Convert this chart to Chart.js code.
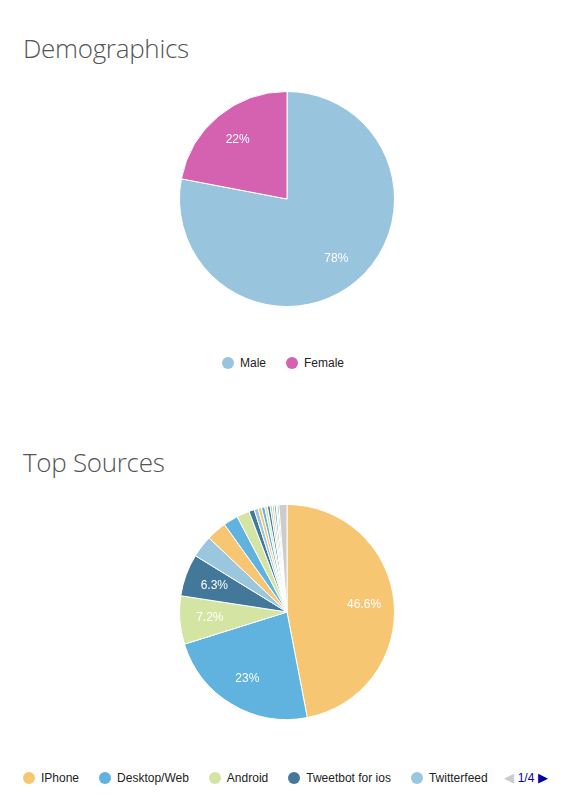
<!DOCTYPE html>
<html><head><meta charset="utf-8">
<script src="https://cdn.jsdelivr.net/npm/chart.js@4/dist/chart.umd.min.js"></script>
<style>
body{margin:0;width:574px;height:811px;background:#fff;position:relative;font-family:Arial,"Liberation Sans",sans-serif;}
h2{position:absolute;left:23px;margin:0;font-family:"Open Sans",sans-serif;font-weight:300;font-size:26px;color:#555;letter-spacing:-0.3px}
.cv{position:absolute;left:0;}
.legend{position:absolute;left:0;width:574px;font-size:12px;color:#222;display:flex;align-items:center}
.legend span.i{display:inline-flex;align-items:center;margin-right:20px}
.legend i{display:inline-block;width:12px;height:12px;border-radius:50%;margin-right:6px}
</style></head><body>
<h2 style="top:30px">Demographics</h2>
<div class="cv" style="top:87px;width:574px;height:224px"><canvas id="myChart1"></canvas></div>
<div class="legend" id="leg1" style="top:356px;justify-content:center;padding-left:6px"></div>
<h2 style="top:444px">Top Sources</h2>
<div class="cv" style="top:500px;width:574px;height:224px"><canvas id="myChart2"></canvas></div>
<div class="legend" id="leg2" style="top:770px;padding-left:23px"></div>
<script>
const demoLabels = ['Male', 'Female'];
const demoValues = [78, 22];
const demoColors = ['#98c5dd', '#d462b0'];

const srcLabels = ['IPhone', 'Desktop/Web', 'Android', 'Tweetbot for ios', 'Twitterfeed',
  'Source 6', 'Source 7', 'Source 8', 'Source 9', 'Source 10', 'Source 11', 'Source 12', 'Source 13',
  'Source 14', 'Source 15', 'Source 16', 'Source 17', 'Source 18', 'Source 19', 'Source 20'];
const srcValues = [46.6, 23, 7.2, 6.3, 3.3, 3.0, 2.2, 1.9, 0.8, 0.6, 0.5, 0.5, 0.4, 0.4, 0.3, 0.3, 0.3, 0.2, 0.2, 1.2];
const palette = ['#f7c673', '#5fb3de', '#d4e5a3', '#43789a', '#9ac6de'];
const srcColors = srcValues.map((v, i) => i === srcValues.length - 1 ? '#cccccc' : palette[i % 5]);

const pctLabels = {
  id: 'pctLabels',
  afterDatasetsDraw(chart) {
    const c = chart.ctx;
    const ds = chart.data.datasets[0];
    const total = ds.data.reduce((a, b) => a + b, 0);
    chart.getDatasetMeta(0).data.forEach((arc, i) => {
      const pct = ds.data[i] / total * 100;
      if (pct < 5) return;
      const a = (arc.startAngle + arc.endAngle) / 2;
      const r = arc.outerRadius * 0.72;
      c.save();
      c.fillStyle = '#fff';
      c.font = '12px Arial, "Liberation Sans", sans-serif';
      c.textAlign = 'center';
      c.textBaseline = 'middle';
      c.fillText(ds.data[i] + '%', arc.x + Math.cos(a) * r, arc.y + Math.sin(a) * r);
      c.restore();
    });
  }
};

function makePie(id, labels, values, colors) {
  return new Chart(document.getElementById(id).getContext('2d'), {
    type: 'pie',
    data: { labels: labels, datasets: [{ data: values, backgroundColor: colors, borderColor: '#fff', borderWidth: 1 }] },
    options: {
      responsive: true,
      maintainAspectRatio: false,
      animation: false,
      layout: { padding: 4 },
      plugins: { legend: { display: false }, tooltip: { enabled: false } }
    },
    plugins: [pctLabels]
  });
}
const myChart1 = makePie('myChart1', demoLabels, demoValues, demoColors);
const myChart2 = makePie('myChart2', srcLabels, srcValues, srcColors);

function legend(el, labels, colors) {
  el.innerHTML = labels.map((l, i) => '<span class="i"><i style="background:' + colors[i] + '"></i>' + l + '</span>').join('');
}
legend(document.getElementById('leg1'), demoLabels, demoColors);
legend(document.getElementById('leg2'), srcLabels.slice(0, 5), srcColors.slice(0, 5));
document.getElementById('leg2').insertAdjacentHTML('beforeend',
  '<span style="color:#ccc;font-size:13px;margin-left:-4px">&#9664;</span><span style="color:#0000aa;margin:0 4px">1/4</span><span style="color:#0000aa;font-size:13px">&#9654;</span>');
</script>
</body></html>
